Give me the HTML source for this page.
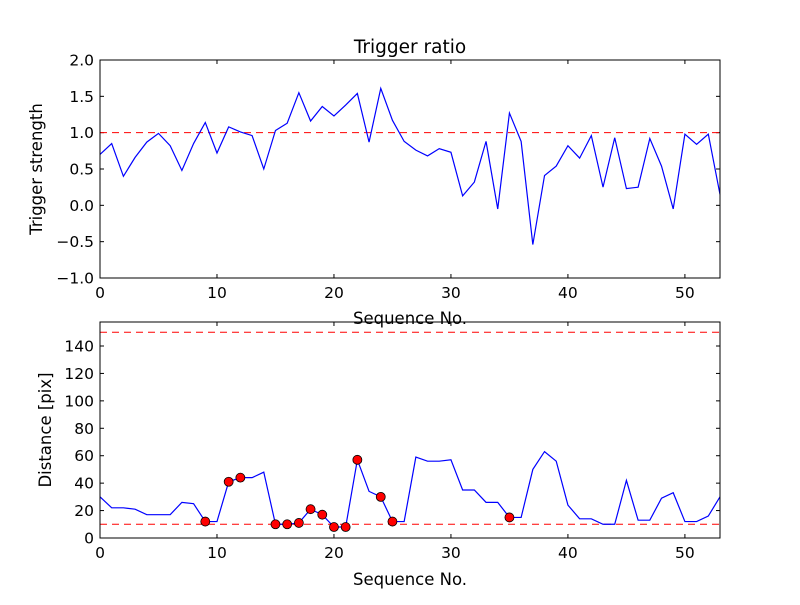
<!DOCTYPE html>
<html><head><meta charset="utf-8"><style>
body{margin:0;background:#fff}
svg text{font-family:"DejaVu Sans","Liberation Sans",sans-serif;fill:#000}
</style></head><body>
<svg id="c" width="800" height="600" xmlns="http://www.w3.org/2000/svg"></svg>
<script>
const seqIndex=[...Array(54).keys()];
const triggerStrength=[0.70,0.85,0.40,0.66,0.87,0.99,0.82,0.48,0.85,1.14,0.72,1.08,1.01,0.96,0.50,1.03,1.13,1.55,1.16,1.36,1.23,1.38,1.54,0.87,1.61,1.17,0.88,0.76,0.68,0.78,0.73,0.13,0.32,0.88,-0.05,1.27,0.88,-0.54,0.41,0.54,0.82,0.65,0.96,0.25,0.93,0.23,0.25,0.92,0.54,-0.05,0.98,0.84,0.98,0.15];
const distance=[30,22,22,21,17,17,17,26,25,12,12,41,44,44,48,10,10,11,21,17,8,8,57,34,30,12,12,59,56,56,57,35,35,26,26,15,15,50,63,56,24,14,14,10,10,42,13,13,29,33,12,12,16,30];
const markerIdx=[9,11,12,15,16,17,18,19,20,21,22,24,25,35];
const xTicks=[0,10,20,30,40,50];
const topYTicks=[-1.0,-0.5,0.0,0.5,1.0,1.5,2.0];
const botYTicks=[0,20,40,60,80,100,120,140];
const topThreshold=[1.0];
const botThresholds=[10,150];

const svg=document.getElementById('c');
const NS='http://www.w3.org/2000/svg';
function mk(t,a,p){const e=document.createElementNS(NS,t);for(const k in a)e.setAttribute(k,a[k]);(p||svg).appendChild(e);return e;}
const L=100,R=720;
const sx=v=>L+(v-0)/(53-0)*(R-L);
function panel(top,bot,ymin,ymax,yt,fmt,name){
  const sy=v=>bot-(v-ymin)/(ymax-ymin)*(bot-top);
  const g=mk('g',{});
  
  
  xTicks.forEach(t=>{
    const x=sx(t);
    const a=mk('line',{x1:x,x2:x,y1:bot,y2:bot-4,stroke:'#000'},g);
    
    mk('line',{x1:x,x2:x,y1:top,y2:top+4,stroke:'#000'},g);
    const tx=mk('text',{x:x,y:bot+20,'text-anchor':'middle','font-size':15.5},g);
    tx.textContent=t;
    
  });
  yt.forEach(t=>{
    const y=sy(t);
    const a=mk('line',{x1:L,x2:L+4,y1:y,y2:y,stroke:'#000'},g);
    
    mk('line',{x1:R,x2:R-4,y1:y,y2:y,stroke:'#000'},g);
    const tx=mk('text',{x:L-6,y:y+5.5,'text-anchor':'end','font-size':15.5},g);
    tx.textContent=fmt(t);
    
  });
  return {g,sy};
}
const T=panel(60,278,-1,2,topYTicks,v=>(v<0?'\u2212'+Math.abs(v).toFixed(1):v.toFixed(1)),'top-axes');
topThreshold.forEach(v=>{const l=mk('line',{x1:L,x2:R,y1:T.sy(v),y2:T.sy(v),stroke:'#f00','stroke-dasharray':'7,5'},T.g);
});
const p1=mk('polyline',{points:seqIndex.map(i=>sx(i)+','+T.sy(triggerStrength[i])).join(' '),fill:'none',stroke:'#00f','stroke-width':1.2},T.g);

mk('rect',{x:L,y:60,width:R-L,height:218,fill:'none',stroke:'#000'},T.g);
const B=panel(322,538,0,157.5,botYTicks,v=>v,'bottom-axes');
botThresholds.forEach(v=>{const l=mk('line',{x1:L,x2:R,y1:B.sy(v),y2:B.sy(v),stroke:'#f00','stroke-dasharray':'7,5'},B.g);
});
const p2=mk('polyline',{points:seqIndex.map(i=>sx(i)+','+B.sy(distance[i])).join(' '),fill:'none',stroke:'#00f','stroke-width':1.2},B.g);

markerIdx.forEach(i=>{const c=mk('circle',{cx:sx(i),cy:B.sy(distance[i]),r:4.5,fill:'#f00',stroke:'#000','stroke-width':0.8},B.g);
});
mk('rect',{x:L,y:322,width:R-L,height:216,fill:'none',stroke:'#000'},B.g);
function txt(s,a,name){const t=mk('text',a);t.textContent=s;return t;}
txt('Trigger ratio',{x:410,y:53,'text-anchor':'middle','font-size':18.5},'chart-title');
txt('Sequence No.',{x:410,y:324,'text-anchor':'middle','font-size':16.5},'top-x-axis-title');
txt('Sequence No.',{x:410,y:585,'text-anchor':'middle','font-size':16.5},'bottom-x-axis-title');
txt('Trigger strength',{x:42,y:169,'text-anchor':'middle','font-size':16.5,transform:'rotate(-90 42 169)'},'top-y-axis-title');
txt('Distance [pix]',{x:51,y:430,'text-anchor':'middle','font-size':16.5,transform:'rotate(-90 51 430)'},'bottom-y-axis-title');
</script>
</body></html>
